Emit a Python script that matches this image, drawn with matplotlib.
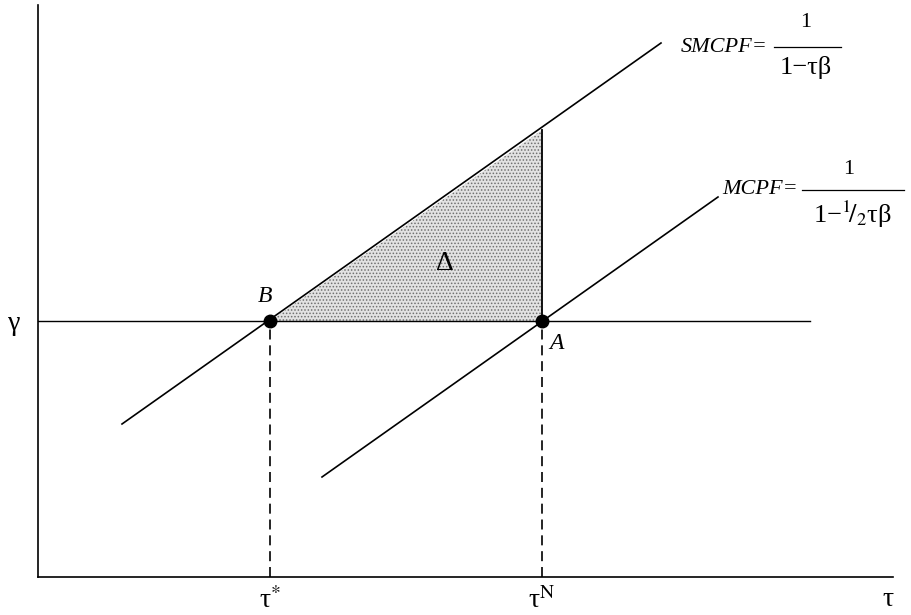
import matplotlib
matplotlib.use("Agg")
import matplotlib.pyplot as plt

plt.rcParams['font.family'] = ['Liberation Serif', 'DejaVu Serif']
plt.rcParams['mathtext.fontset'] = 'stix'
plt.rcParams['hatch.color'] = '#707070'
plt.rcParams['hatch.linewidth'] = 0.7

# key values of the diagram (tau on x, gamma on y)
tau_star = 232
tau_N = 504
gamma = 256
tau_max = 855
y_max = 572
gamma_line_end = 772

# the two schedules, read as end points
smcpf_tau = [84, 623]
smcpf_val = [153, 534]
mcpf_tau = [284, 680]
mcpf_val = [100, 380]

# top of the vertical at tau_N (where it meets SMCPF)
smcpf_at_tauN = 447

tick_pos = [tau_star, tau_N, 850]
tick_lab = ['τ$^{*}$', 'τ$^{\\mathrm{N}}$', 'τ']

fig = plt.figure(figsize=(9.11, 6.15), dpi=100)
ax = fig.add_axes([38 / 911, 38 / 615, 855 / 911, 572 / 615])
ax.set_xlim(0, tau_max)
ax.set_ylim(0, y_max)
for s in ['top', 'right']:
    ax.spines[s].set_visible(False)
for s in ['left', 'bottom']:
    ax.spines[s].set_linewidth(1.2)

# shaded triangle Delta (stippled)
ax.fill([tau_star, tau_N, tau_N], [gamma, gamma, smcpf_at_tauN],
        facecolor='#e2e2e2', edgecolor='#707070', lw=0, hatch='.....', zorder=1)

# schedules
ax.plot(smcpf_tau, smcpf_val, color='black', lw=1.2, zorder=3)
ax.plot(mcpf_tau, mcpf_val, color='black', lw=1.2, zorder=3)

# gamma line
ax.plot([0, gamma_line_end], [gamma, gamma], color='black', lw=1.0, zorder=2)

# vertical at tau_N
ax.plot([tau_N, tau_N], [gamma, smcpf_at_tauN], color='black', lw=1.3, zorder=3)

# dashed drop lines
ax.plot([tau_star, tau_star], [0, gamma], color='black', lw=1.2, dashes=(6, 3.5), zorder=2)
ax.plot([tau_N, tau_N], [0, gamma], color='black', lw=1.2, dashes=(6, 3.5), zorder=2)

# points A and B
ax.plot([tau_star, tau_N], [gamma, gamma], 'o', color='black', ms=9, zorder=4)

ax.text(tau_star - 5, gamma + 14, 'B', style='italic', fontsize=17, ha='center', va='bottom')
ax.text(tau_N + 14, gamma - 12, 'A', style='italic', fontsize=17, ha='center', va='top')
ax.text(407, 314, 'Δ', fontsize=20, ha='center', va='center')

ax.set_xticks(tick_pos)
ax.set_xticklabels(tick_lab, fontsize=20)
ax.set_yticks([gamma])
ax.set_yticklabels(['γ'], fontsize=20)
ax.tick_params(axis='x', length=0, pad=7)
ax.tick_params(axis='y', length=0, pad=13)

# curve labels
ax.text(643, 530, 'SMCPF=', style='italic', fontsize=16, ha='left', va='center')
ax.plot([736, 803], [530, 530], color='black', lw=0.9, clip_on=False)
ax.text(768, 545, '1', fontsize=16, ha='center', va='bottom')
ax.text(768, 521, '1−τβ', fontsize=19, ha='center', va='top')

ax.text(684, 387, 'MCPF=', style='italic', fontsize=16, ha='left', va='center')
ax.plot([764, 866], [387, 387], color='black', lw=0.9, clip_on=False)
ax.text(811, 398, '1', fontsize=16, ha='center', va='bottom')
ax.text(814, 378, '1−$^{1}\\!/_{2}$τβ', fontsize=19, ha='center', va='top')

fig.savefig('out.png', dpi=100)
